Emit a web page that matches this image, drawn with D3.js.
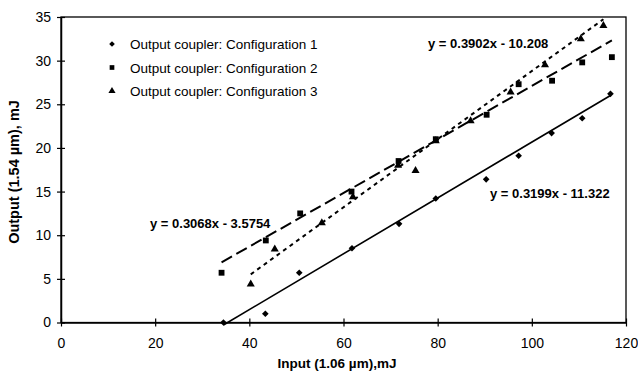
<!DOCTYPE html>
<html><head><meta charset="utf-8">
<script src="https://cdn.jsdelivr.net/npm/d3@7"></script>
<style>body{margin:0;background:#fff}svg{display:block}text{font-family:"Liberation Sans",Arial,sans-serif;fill:#000}</style>
</head><body>
<svg id="c" width="638" height="379"></svg>
<script>
const xTicks = [0, 20, 40, 60, 80, 100, 120];
const yTicks = [0, 5, 10, 15, 20, 25, 30, 35];
const seriesNames = ["Output coupler: Configuration 1", "Output coupler: Configuration 2", "Output coupler: Configuration 3"];
const config1X = [34.5, 43.4, 50.6, 61.8, 71.8, 79.6, 90.3, 97.2, 104.2, 110.7, 116.7];
const config1Y = [0, 1.0, 5.7, 8.5, 11.3, 14.2, 16.4, 19.1, 21.7, 23.4, 26.2];
const config2X = [34.1, 43.5, 50.8, 61.7, 71.7, 79.6, 90.4, 97.2, 104.3, 110.7, 117];
const config2Y = [5.7, 9.4, 12.5, 15.0, 18.5, 21.0, 23.8, 27.3, 27.7, 29.8, 30.4];
const config3X = [40.3, 45.4, 55.4, 62, 71.6, 75.3, 79.6, 87, 95.5, 102.8, 110.4, 115.2];
const config3Y = [4.4, 8.4, 11.4, 14.4, 18.0, 17.4, 20.8, 23.1, 26.4, 29.5, 32.5, 34.0];
const slopes = [0.3199, 0.3068, 0.3902];
const intercepts = [-11.322, -3.5754, -10.208];
const equationLabels = ["y = 0.3199x - 11.322", "y = 0.3068x - 3.5754", "y = 0.3902x - 10.208"];

const svg = d3.select("#c");
const x = d3.scaleLinear().domain([0, 120]).range([61, 626]);
const y = d3.scaleLinear().domain([0, 35]).range([322.5, 17]);

// frame
svg.append("rect").attr("x", x(0)).attr("y", y(35)).attr("width", x(120) - x(0)).attr("height", y(0) - y(35))
  .attr("fill", "none").attr("stroke", "#000").attr("stroke-width", 1.3);

// axes
const yAxis = svg.append("g").attr("transform", `translate(${x(0)},0)`)
  .call(d3.axisLeft(y).tickValues(yTicks).tickSize(4).tickPadding(8).tickSizeOuter(0));
yAxis.selectAll(".tick line").attr("x2", 4).attr("x1", -4).attr("stroke-width", 1.2);
yAxis.select(".domain").attr("stroke-width", 1.5);
yAxis.selectAll("text").style("font-size", "14px").style("font-family", "Liberation Sans, Arial, sans-serif").attr("x", -10);

const xAxis = svg.append("g").attr("transform", `translate(0,${y(0)})`)
  .call(d3.axisBottom(x).tickValues(xTicks).tickSize(4).tickPadding(12).tickSizeOuter(0));
xAxis.selectAll(".tick line").attr("y1", -4).attr("y2", 4).attr("stroke-width", 1.2);
xAxis.select(".domain").attr("stroke-width", 1.5);
xAxis.selectAll("text").style("font-size", "14px").style("font-family", "Liberation Sans, Arial, sans-serif");

// axis titles
svg.append("text").attr("x", 337).attr("y", 368).attr("text-anchor", "middle")
  .style("font-size", "13.5px").style("font-weight", "bold").text("Input (1.06 µm),mJ");
svg.append("text").attr("transform", "translate(19,172) rotate(-90)").attr("text-anchor", "middle")
  .style("font-size", "14.5px").style("font-weight", "bold").text("Output (1.54 µm), mJ");

// fit lines
const dashes = [null, "12,5", "4,4"];
const ranges = [d3.extent(config1X), d3.extent(config2X), d3.extent(config3X)];
ranges.forEach((r, i) => {
  svg.append("line")
    .attr("x1", x(r[0])).attr("y1", y(slopes[i] * r[0] + intercepts[i]))
    .attr("x2", x(r[1])).attr("y2", y(slopes[i] * r[1] + intercepts[i]))
    .attr("stroke", "#000").attr("stroke-width", i === 0 ? 1.6 : 2)
    .attr("stroke-dasharray", dashes[i]);
});

// markers
const symbols = [d3.symbolSquare, d3.symbolSquare, d3.symbolTriangle];
const rotations = [45, 0, 0];
const sizes = [22, 34, 28];
const sets = [[config1X, config1Y], [config2X, config2Y], [config3X, config3Y]];
sets.forEach(([xs, ys], i) => {
  svg.append("g").selectAll("path").data(xs).join("path")
    .attr("transform", (d, j) => `translate(${x(d)},${y(ys[j])}) rotate(${rotations[i]})`)
    .attr("d", d3.symbol().type(symbols[i]).size(sizes[i]))
    .attr("fill", "#000");
});

// equation labels
const eqPos = [[490, 198], [150, 228], [428, 48]];
equationLabels.forEach((t, i) => {
  svg.append("text").attr("x", eqPos[i][0]).attr("y", eqPos[i][1])
    .style("font-size", "13px").style("font-weight", "bold").text(t);
});

// legend
seriesNames.forEach((n, i) => {
  const ly = 44 + i * 23.5;
  svg.append("path").attr("transform", `translate(112,${ly}) rotate(${rotations[i]})`)
    .attr("d", d3.symbol().type(symbols[i]).size(i === 0 ? 16 : 22)).attr("fill", "#000");
  svg.append("text").attr("x", 130).attr("y", ly + 5)
    .style("font-size", "13.5px").text(n);
});
</script>
</body></html>
